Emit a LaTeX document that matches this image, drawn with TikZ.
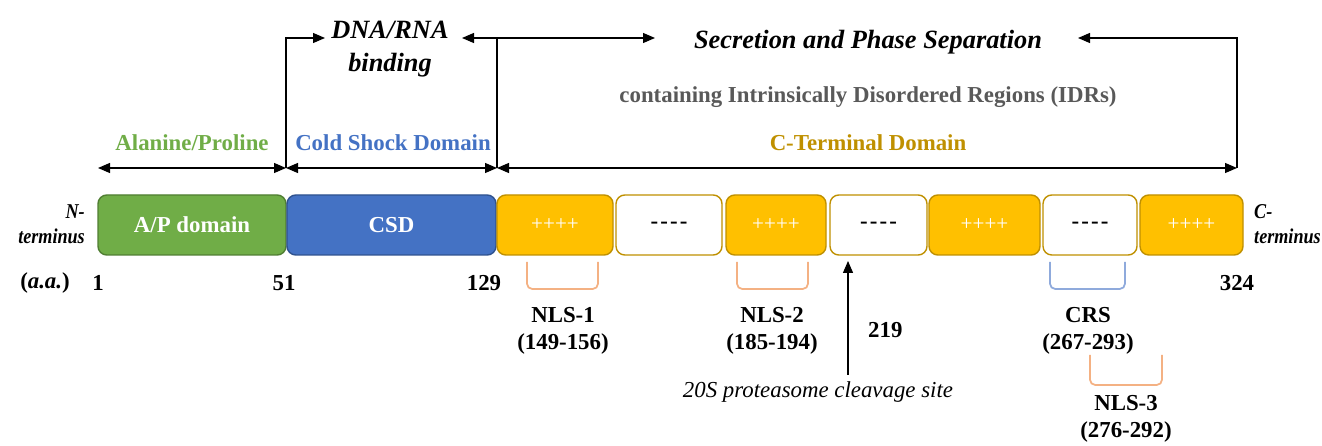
\documentclass[tikz,border=0pt]{standalone}
\usepackage{fontspec}
\setmainfont{Liberation Serif}
\newfontfamily\narrowserif[FakeStretch=0.86]{Liberation Serif}
\usetikzlibrary{arrows.meta,positioning,calc}
\definecolor{apGreen}{HTML}{70AD47}
\definecolor{apEdge}{HTML}{507E32}
\definecolor{csdBlue}{HTML}{4472C4}
\definecolor{csdEdge}{HTML}{2F528F}
\definecolor{ctdYellow}{HTML}{FFC000}
\definecolor{ctdEdge}{HTML}{BF9000}
\definecolor{idrGrey}{HTML}{595959}
\definecolor{nlsOrange}{HTML}{F4B183}
\definecolor{crsBlue}{HTML}{8FAADC}

\begin{document}
\begin{tikzpicture}[
    seg/.style={rounded corners=5pt, minimum height=1.2cm, inner sep=0pt, line width=0.8pt,
                font=\fontsize{13}{15}\selectfont\bfseries},
    plusbox/.style={seg, fill=ctdYellow, draw=ctdEdge, text=white, font=\fontsize{12}{14}\selectfont},
    minusbox/.style={seg, fill=white, draw=ctdEdge},
    arrowtip/.tip={Triangle[length=2.4mm,width=2mm]},
    domspan/.style={arrowtip-arrowtip, line width=0.7pt},
    lbl/.style={font=\fontsize{13}{15}\selectfont\bfseries},
    termtxt/.style={font=\narrowserif\fontsize{12}{14}\selectfont\bfseries\itshape},
    headtxt/.style={font=\fontsize{15}{19}\selectfont\bfseries\itshape, align=center},
    sitetxt/.style={font=\fontsize{13}{15}\selectfont\bfseries, align=center, inner sep=1pt},
    bracket/.style={line width=1pt, rounded corners=3pt},
]
    \useasboundingbox (0,0) rectangle (26.44,8.92);

    \node[seg, fill=apGreen, draw=apEdge, text=white, minimum width=3.76cm] (ap) at (3.84,4.42) {A/P domain};
    \node[seg, fill=csdBlue, draw=csdEdge, text=white, minimum width=4.18cm] (csd) at (7.83,4.42) {CSD};
    \node[plusbox, minimum width=2.32cm] (p1) at (11.10,4.42) {++++};
    \node[minusbox, minimum width=2.12cm] (m1) at (13.38,4.42) {-\kern1.2pt-\kern1.2pt-\kern1.2pt-};
    \node[plusbox, minimum width=2.00cm] (p2) at (15.52,4.42) {++++};
    \node[minusbox, minimum width=1.94cm] (m2) at (17.57,4.42) {-\kern1.2pt-\kern1.2pt-\kern1.2pt-};
    \node[plusbox, minimum width=2.22cm] (p3) at (19.69,4.42) {++++};
    \node[minusbox, minimum width=1.88cm] (m3) at (21.80,4.42) {-\kern1.2pt-\kern1.2pt-\kern1.2pt-};
    \node[plusbox, minimum width=2.06cm] (p4) at (23.83,4.42) {++++};

    \node[termtxt, align=right, anchor=east] (nterm) at (1.82,4.44) {N-\\terminus};
    \node[termtxt, align=left, anchor=west] (cterm) at (24.96,4.44) {C-\\terminus};

    \node[lbl] (aa) at (0.90,3.26) {(\textit{a.a.})};
    \node[lbl] (n1) at (1.96,3.26) {1};
    \node[lbl] (n51) at (5.68,3.26) {51};
    \node[lbl] (n129) at (9.68,3.26) {129};
    \node[lbl] (n324) at (24.74,3.26) {324};

    \coordinate (b0) at (1.96,5.56);
    \coordinate (b1) at (5.72,5.56);
    \coordinate (b2) at (9.94,5.56);
    \coordinate (b3) at (24.74,5.56);
    \draw[domspan] (b0) -- (b1);
    \draw[domspan] (b1) -- (b2);
    \draw[domspan] (b2) -- (b3);

    \node[lbl, text=apGreen] (aplbl) at (3.84,6.06) {Alanine/Proline};
    \node[lbl, text=csdBlue] (csdlbl) at (7.86,6.06) {Cold Shock Domain};
    \node[lbl, text=ctdEdge] (ctdlbl) at (17.36,6.06) {C-Terminal Domain};
    \node[lbl, text=idrGrey] (idr) at (17.36,6.98) {containing Intrinsically Disordered Regions (IDRs)};

    \node[headtxt] (dna) at (7.80,7.94) {DNA/RNA\\binding};
    \node[headtxt] (sec) at (17.36,8.07) {Secretion and Phase Separation};
    \coordinate (t1) at (5.72,8.16);
    \coordinate (t2) at (9.94,8.16);
    \coordinate (t3) at (24.74,8.16);
    \draw[line width=0.7pt, -arrowtip] (b1) -- (t1) -- (6.50,8.16);
    \draw[line width=0.7pt, -arrowtip] (b2) -- (t2) -- (9.24,8.16);
    \draw[line width=0.7pt, -arrowtip] (t2) -- (13.10,8.16);
    \draw[line width=0.7pt, -arrowtip] (b3) -- (t3) -- (21.56,8.16);

    \draw[bracket, nlsOrange] (10.54,3.68) -- (10.54,3.14) -- (11.96,3.14) -- (11.96,3.68);
    \node[sitetxt] (nls1) at (11.26,2.30) {NLS-1\\(149-156)};
    \draw[bracket, nlsOrange] (14.74,3.68) -- (14.74,3.14) -- (16.16,3.14) -- (16.16,3.68);
    \node[sitetxt] (nls2) at (15.44,2.30) {NLS-2\\(185-194)};
    \draw[bracket, crsBlue] (21.00,3.68) -- (21.00,3.14) -- (22.50,3.14) -- (22.50,3.68);
    \node[sitetxt] (crs) at (21.76,2.30) {CRS\\(267-293)};
    \draw[bracket, nlsOrange] (21.80,1.82) -- (21.80,1.22) -- (23.24,1.22) -- (23.24,1.82);
    \node[sitetxt] (nls3) at (22.52,0.54) {NLS-3\\(276-292)};

    \coordinate (cut) at (16.96,1.42);
    \draw[line width=0.7pt, -arrowtip, shorten >=3pt] (cut) -- (cut |- m2.south);
    \node[lbl, anchor=west] (n219) at (17.24,2.32) {219};
    \node[lbl, font=\fontsize{13}{15}\selectfont\itshape] (cleave) at (16.36,1.08) {20S proteasome cleavage site};
\end{tikzpicture}
\end{document}
